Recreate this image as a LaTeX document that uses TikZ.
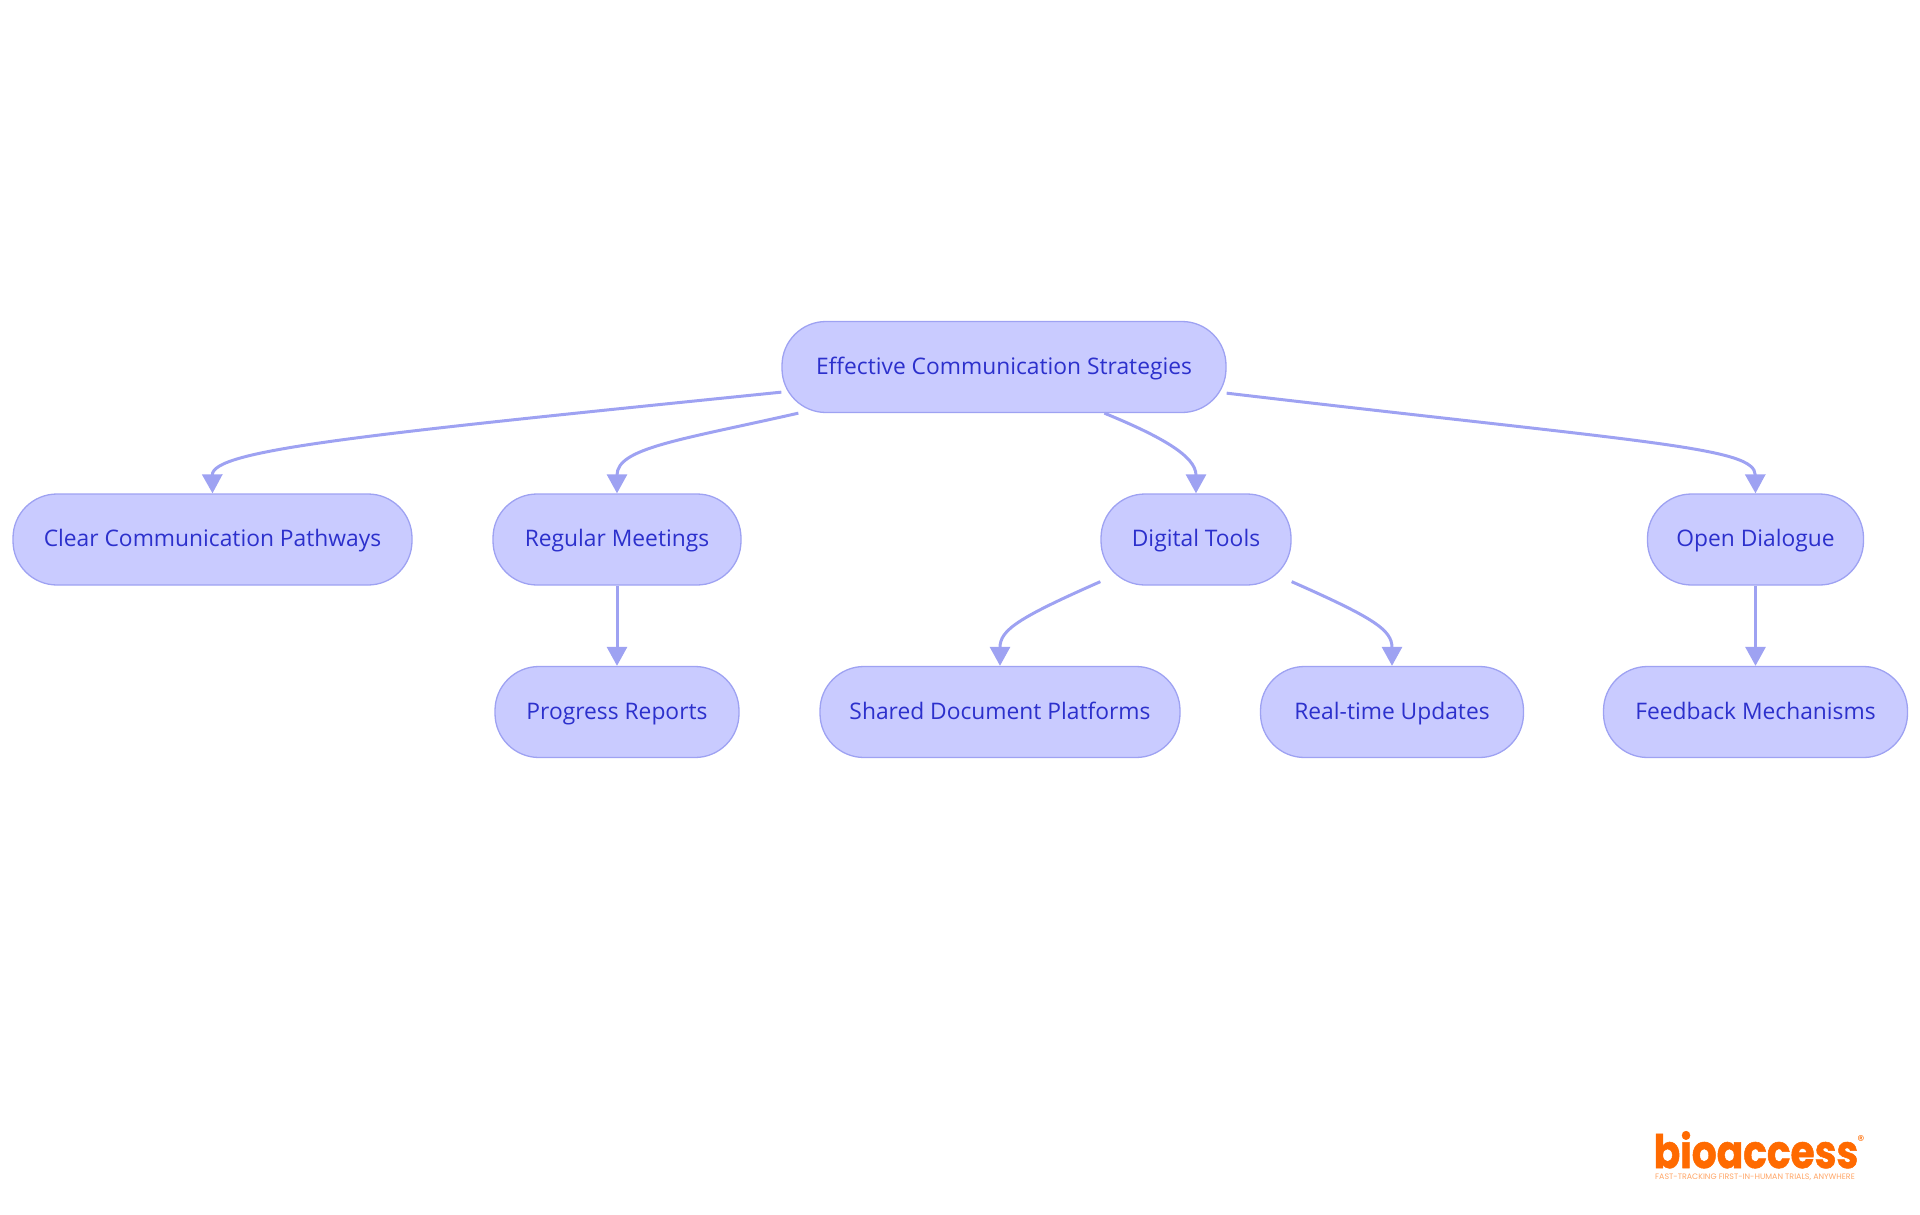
\documentclass[tikz,border=0pt]{standalone}
\usepackage{fontspec}
\setmainfont{Open Sans}
\newfontfamily\logofont[BoldFeatures={FakeBold=1.2}]{Poppins}
\usetikzlibrary{arrows.meta}
\definecolor{boxfill}{HTML}{C9CBFF}
\definecolor{boxline}{HTML}{9EA2F2}
\definecolor{boxtext}{HTML}{2C30CC}
\definecolor{logoorange}{HTML}{FF6A00}
\tikzset{
    caja/.style={draw=boxline, line width=1.3pt, fill=boxfill, text=boxtext, rounded corners=44pt,
        minimum height=91pt, inner sep=0pt, text height=19pt, text depth=5pt, font=\fontsize{22.8}{28}\selectfont},
    flecha/.style={draw=boxline, line width=3pt, -{Triangle[length=19pt,width=20pt,fill=boxline]}}
}
\begin{document}
\begin{tikzpicture}[x=1pt,y=-1pt]
    \useasboundingbox (0,0) rectangle (1920,1215);

    % ~~~~ Cajas ~~~~%
    \node[caja, minimum width=444pt] (root) at (1004,367) {Effective Communication Strategies};
    \node[caja, minimum width=399pt] (pathways) at (212.5,539.5) {Clear Communication Pathways};
    \node[caja, minimum width=248pt] (meetings) at (617,539.5) {Regular Meetings};
    \node[caja, minimum width=190pt] (tools) at (1196,539.5) {Digital Tools};
    \node[caja, minimum width=216pt] (dialogue) at (1755.5,539.5) {Open Dialogue};
    \node[caja, minimum width=244pt] (reports) at (617,712) {Progress Reports};
    \node[caja, minimum width=360pt] (platforms) at (1000,712) {Shared Document Platforms};
    \node[caja, minimum width=263pt] (updates) at (1392,712) {Real-time Updates};
    \node[caja, minimum width=304pt] (feedback) at (1755.5,712) {Feedback Mechanisms};

    % ~~~~ Flechas ~~~~%
    \draw[flecha] ([yshift=21pt]root.south west) .. controls (360,435) and (212,450) .. (pathways.north);
    \draw[flecha] ([xshift=17pt]root.south west) .. controls (680,440) and (617,448) .. (meetings.north);
    \draw[flecha] ([xshift=323pt]root.south west) .. controls (1160,436) and (1196,456) .. (tools.north);
    \draw[flecha] ([yshift=20pt]root.south east) .. controls (1650,443) and (1755,447) .. (dialogue.north);
    \draw[flecha] (meetings.south) -- (reports.north);
    \draw[flecha] ([yshift=4pt]tools.south west) .. controls (1018,618) and (1000,630) .. (platforms.north);
    \draw[flecha] ([yshift=4pt]tools.south east) .. controls (1374,618) and (1392,630) .. (updates.north);
    \draw[flecha] (dialogue.south) -- (feedback.north);

    % ~~~~ Logo ~~~~%
    \node[text=logoorange, inner sep=0pt, anchor=base, xscale=.85, font=\logofont\bfseries\fontsize{46}{46}\selectfont] (logo) at (1756,1168) {bioaccess};
    \node[text=logoorange, inner sep=0pt, font=\logofont\fontsize{14}{14}\selectfont] (registered) at (1861,1141) {®};
    \node[text=logoorange!60, inner sep=0pt, font=\logofont\fontsize{7.9}{8}\selectfont] (tagline) at (1755,1177) {FAST-TRACKING FIRST-IN-HUMAN TRIALS, ANYWHERE};
\end{tikzpicture}
\end{document}
